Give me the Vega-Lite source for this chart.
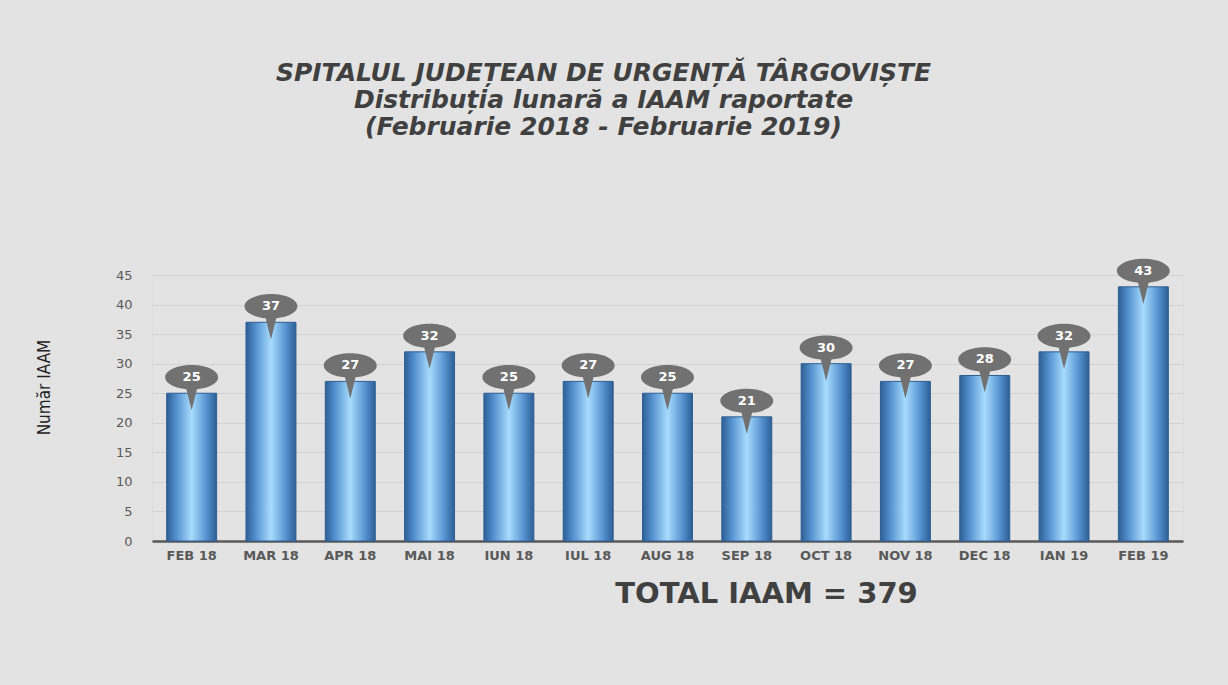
{
  "$schema": "https://vega.github.io/schema/vega-lite/v6.json",
  "autosize": "none",
  "width": 1031,
  "height": 266,
  "padding": {"left": 152, "top": 275, "right": 45, "bottom": 144},
  "background": "#e3e3e3",
  "title": {
    "text": ["SPITALUL JUDEȚEAN DE URGENȚĂ TÂRGOVIȘTE", "Distribuția lunară a IAAM raportate", "(Februarie 2018 - Februarie 2019)"],
    "font": "DejaVu Sans",
    "fontSize": 25,
    "fontStyle": "italic",
    "fontWeight": "bold",
    "color": "#404040",
    "lineHeight": 27,
    "anchor": "middle",
    "dx": -64,
    "offset": 119
  },
  "data": {
    "values": [
      {"month": "FEB 18", "value": 25},
      {"month": "MAR 18", "value": 37},
      {"month": "APR 18", "value": 27},
      {"month": "MAI 18", "value": 32},
      {"month": "IUN 18", "value": 25},
      {"month": "IUL 18", "value": 27},
      {"month": "AUG 18", "value": 25},
      {"month": "SEP 18", "value": 21},
      {"month": "OCT 18", "value": 30},
      {"month": "NOV 18", "value": 27},
      {"month": "DEC 18", "value": 28},
      {"month": "IAN 19", "value": 32},
      {"month": "FEB 19", "value": 43}
    ]
  },
  "encoding": {
    "x": {
      "field": "month",
      "type": "nominal",
      "sort": null,
      "scale": {"paddingInner": 0.37, "paddingOuter": 0.185},
      "axis": {
        "title": "TOTAL IAAM = 379",
        "titleFont": "DejaVu Sans",
        "titleFontSize": 29,
        "titleFontWeight": "bold",
        "titleColor": "#404040",
        "titleX": 614,
        "titlePadding": 17,
        "labelAngle": 0,
        "labelFont": "DejaVu Sans",
        "labelFontSize": 13,
        "labelFontWeight": "bold",
        "labelColor": "#595959",
        "labelPadding": 8,
        "ticks": false,
        "domainColor": "#595959",
        "domainWidth": 2.5
      }
    },
    "y": {
      "field": "value",
      "type": "quantitative",
      "scale": {"domain": [0, 45]},
      "axis": {
        "title": "Număr IAAM",
        "titleFont": "DejaVu Sans Condensed, Liberation Sans Narrow, Liberation Sans",
        "titleFontSize": 17,
        "titleFontWeight": "normal",
        "titleColor": "#222222",
        "titlePadding": 62,
        "titleY": 112,
        "values": [0, 5, 10, 15, 20, 25, 30, 35, 40, 45],
        "labelFont": "DejaVu Sans",
        "labelFontSize": 13,
        "labelColor": "#595959",
        "labelPadding": 20,
        "ticks": false,
        "domain": false,
        "gridColor": "#d2d2d2",
        "gridWidth": 1
      }
    }
  },
  "layer": [
    {
      "mark": {
        "type": "bar",
        "stroke": "#2f5f93",
        "strokeWidth": 1,
        "color": {
          "gradient": "linear",
          "x1": 0, "y1": 0, "x2": 1, "y2": 0,
          "stops": [
            {"offset": 0, "color": "#2d5f96"},
            {"offset": 0.2, "color": "#5592d0"},
            {"offset": 0.5, "color": "#a8dcfd"},
            {"offset": 0.8, "color": "#5592d0"},
            {"offset": 1, "color": "#2d5f96"}
          ]
        }
      }
    },
    {
      "mark": {
        "type": "point",
        "filled": true,
        "color": "#717171",
        "opacity": 1,
        "size": 2809,
        "yOffset": -16,
        "shape": "M -1 0 A 1 0.46 0 0 1 1 0 A 1 0.46 0 0 1 0.2 0.45 L 0 1.25 L -0.2 0.45 A 1 0.46 0 0 1 -1 0 Z"
      }
    },
    {
      "mark": {
        "type": "text",
        "color": "white",
        "font": "DejaVu Sans",
        "fontSize": 13,
        "fontWeight": "bold",
        "yOffset": -16,
        "baseline": "middle"
      },
      "encoding": {"text": {"field": "value", "type": "quantitative"}}
    }
  ]
}
